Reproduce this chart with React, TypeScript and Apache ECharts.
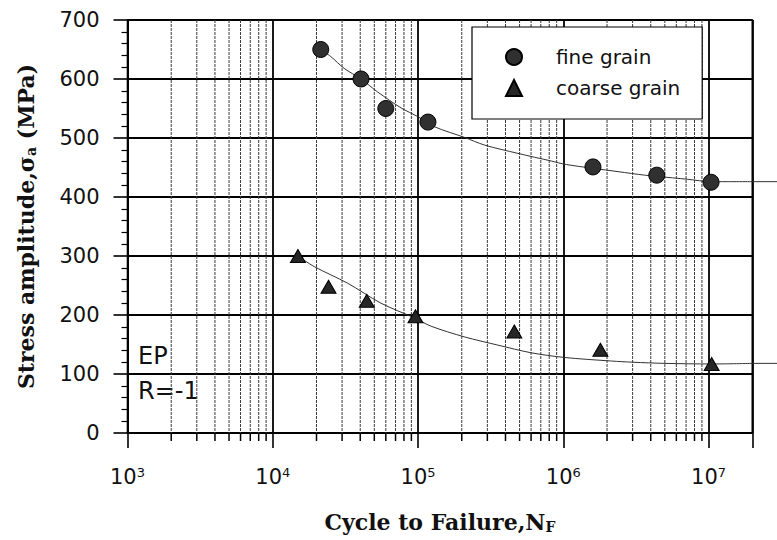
import React, { useEffect, useRef } from "react";
import * as echarts from "echarts";

// ---- data ----
const fineN = [2.14e4, 4.05e4, 6.0e4, 1.17e5, 1.6e6, 4.4e6, 1.04e7];
const fineS = [650, 600, 550, 527, 451, 437, 425];
const coarseN = [1.49e4, 2.42e4, 4.44e4, 9.6e4, 4.6e5, 1.8e6, 1.05e7];
const coarseS = [300, 248, 224, 198, 172, 141, 117];

// fitted curves (traced); the last point sits on the right border and the
// curve continues horizontally past the plot to the edge of the picture
const fineFitN = [2.14e4, 2.51e4, 3.1e4, 4.05e4, 5.27e4, 7.64e4, 1e5, 1.3e5, 2.09e5, 2.87e5, 4.86e5, 8.26e5, 1.05e6, 2.38e6, 3.63e6, 4.4e6, 7.2e6, 1.04e7, 2e7];
const fineFitS = [650, 638, 618, 600, 578, 551, 536, 519, 501, 488, 474, 461, 455, 443, 437, 435, 430, 426, 426];
const coarseFitN = [1.49e4, 1.93e4, 3.27e4, 5.56e4, 9.45e4, 1.23e5, 2.08e5, 3.54e5, 6.0e5, 1.02e6, 2.14e6, 3.0e6, 5e6, 1.05e7, 2e7];
const coarseFitS = [300, 282, 254, 220, 195, 181, 163, 149, 136, 128, 122, 120, 118, 117, 118];

// axis settings
const xMin = 1e3;
const xMax = 2e7;
const yMin = 0;
const yMax = 700;
const yInterval = 100;
const minorDecades = [1e3, 1e4, 1e5, 1e6];
const minorMultipliers = [2, 3, 4, 5, 6, 7, 8, 9];

const legendNames = ["fine grain", "coarse grain"];
const xName = "Cycle to Failure,N";
const xNameSub = "F";
const yNameMain = "Stress amplitude,σ";
const yNameSub = "a";
const yNameTail = " (MPa)";
const notes = ["EP", "R=-1"];

const SANS = '"DejaVu Sans", sans-serif';
const SERIF = '"DejaVu Serif", serif';

export default function App() {
  const ref = useRef<HTMLDivElement>(null);

  useEffect(() => {
    document.body.style.margin = "0";
    if (!ref.current) return;
    const chart = echarts.init(ref.current, undefined, { renderer: "svg" });

    const minorTicks: number[][] = [];
    minorDecades.forEach((d) => minorMultipliers.forEach((m) => minorTicks.push([d * m, 0])));

    const fitEnds = [
      [fineFitN[fineFitN.length - 1], fineFitS[fineFitS.length - 1]],
      [coarseFitN[coarseFitN.length - 1], coarseFitS[coarseFitS.length - 1]],
    ];

    const option: any = {
      animation: false,
      backgroundColor: "#ffffff",
      grid: {
        left: 127.5,
        right: 24.7,
        top: 20,
        bottom: 107,
        show: true,
        borderColor: "#000",
        borderWidth: 1.6,
        backgroundColor: "transparent",
        containLabel: false,
        outerBoundsMode: "none",
      },
      legend: {
        data: [
          { name: legendNames[0], icon: "circle" },
          { name: legendNames[1], icon: "triangle" },
        ],
        orient: "vertical",
        left: 472,
        top: 27,
        itemWidth: 16,
        itemHeight: 16,
        itemGap: 11,
        padding: [20, 22, 21, 33],
        backgroundColor: "#fff",
        borderColor: "#000",
        borderWidth: 1.2,
        borderRadius: 0,
        selectedMode: false,
        textStyle: {
          fontFamily: SANS,
          fontSize: 20,
          color: "#111",
          padding: [0, 0, 0, 29],
        },
      },
      xAxis: {
        type: "log",
        logBase: 10,
        min: xMin,
        max: xMax,
        name: `{n|${xName}}{s|${xNameSub}}`,
        nameLocation: "middle",
        nameGap: 77,
        nameMoveOverlap: false,
        nameTextStyle: {
          rich: {
            n: { fontFamily: SERIF, fontWeight: "bold", fontSize: 22, color: "#111" },
            s: { fontFamily: SERIF, fontWeight: "bold", fontSize: 14, color: "#111", padding: [10, 0, 0, 0] },
          },
        },
        axisLine: { show: true, lineStyle: { color: "#000", width: 1.6 } },
        axisTick: { show: true, length: 15, lineStyle: { color: "#000", width: 1.6 } },
        splitLine: { show: true, lineStyle: { color: "#000", width: 1.8 } },
        axisLabel: {
          margin: 33,
          formatter: (v: number) => {
            const e = Math.round(Math.log10(v));
            if (Math.abs(v - Math.pow(10, e)) > 1e-6 * v) return "";
            return `{b|10}{sup|${e}}`;
          },
          rich: {
            b: { fontFamily: SANS, fontSize: 21, color: "#111" },
            sup: { fontFamily: SANS, fontSize: 13, color: "#111", padding: [0, 0, 9, 0] },
          },
        },
      },
      yAxis: {
        type: "value",
        min: yMin,
        max: yMax,
        interval: yInterval,
        name: `{n|${yNameMain}}{s|${yNameSub}}{n|${yNameTail}}`,
        nameLocation: "middle",
        nameRotate: 90,
        nameGap: 90,
        nameMoveOverlap: false,
        nameTextStyle: {
          rich: {
            n: { fontFamily: SERIF, fontWeight: "bold", fontSize: 22, color: "#111" },
            s: { fontFamily: SERIF, fontWeight: "bold", fontSize: 14, color: "#111", padding: [10, 0, 0, 0] },
          },
        },
        axisLine: { show: true, lineStyle: { color: "#000", width: 1.6 } },
        axisTick: { show: true, length: 14, lineStyle: { color: "#000", width: 1.6 } },
        minorTick: { show: true, splitNumber: 5, length: 6, lineStyle: { color: "#000", width: 1.2 } },
        splitLine: { show: true, lineStyle: { color: "#000", width: 1.8 } },
        axisLabel: { margin: 28, fontFamily: SANS, fontSize: 21, color: "#111" },
      },
      graphic: [
        { type: "text", left: 138, top: 344, style: { text: notes[0], font: `24px ${SANS}`, fill: "#111" } },
        { type: "text", left: 138, top: 379, style: { text: notes[1], font: `24px ${SANS}`, fill: "#111" } },
      ],
      series: [
        {
          name: "minor",
          type: "custom",
          clip: false,
          silent: true,
          z: 1,
          data: minorTicks,
          renderItem: (params: any, api: any) => {
            const v = api.value(0);
            const p0 = api.coord([v, yMin]);
            const p1 = api.coord([v, yMax]);
            return {
              type: "group",
              children: [
                {
                  type: "line",
                  shape: { x1: p0[0], y1: p1[1], x2: p0[0], y2: p0[1] },
                  style: { stroke: "#3a3a3a", lineWidth: 1, lineDash: [3, 1] },
                },
                {
                  type: "line",
                  shape: { x1: p0[0], y1: p0[1], x2: p0[0], y2: p0[1] + 8 },
                  style: { stroke: "#000", lineWidth: 1.5 },
                },
              ],
            };
          },
        },
        {
          name: "fit extension",
          type: "custom",
          clip: false,
          silent: true,
          z: 3,
          data: fitEnds,
          renderItem: (params: any, api: any) => {
            const p = api.coord([api.value(0), api.value(1)]);
            return {
              type: "line",
              shape: { x1: p[0], y1: p[1], x2: api.getWidth(), y2: p[1] },
              style: { stroke: "#333", lineWidth: 1 },
            };
          },
        },
        {
          name: "fine fit",
          type: "line",
          data: fineFitN.map((n, i) => [n, fineFitS[i]]),
          showSymbol: false,
          symbol: "none",
          smooth: 0.3,
          silent: true,
          z: 3,
          lineStyle: { color: "#333", width: 1 },
        },
        {
          name: "coarse fit",
          type: "line",
          data: coarseFitN.map((n, i) => [n, coarseFitS[i]]),
          showSymbol: false,
          symbol: "none",
          smooth: 0.3,
          silent: true,
          z: 3,
          lineStyle: { color: "#333", width: 1 },
        },
        {
          name: legendNames[0],
          type: "scatter",
          symbol: "circle",
          symbolSize: 16,
          z: 5,
          data: fineN.map((n, i) => [n, fineS[i]]),
          itemStyle: { color: "#303030", borderColor: "#000", borderWidth: 1, opacity: 1 },
        },
        {
          name: legendNames[1],
          type: "scatter",
          symbol: "triangle",
          symbolSize: [15, 13],
          z: 5,
          data: coarseN.map((n, i) => [n, coarseS[i]]),
          itemStyle: { color: "#262626", borderColor: "#000", borderWidth: 1, opacity: 1 },
        },
      ],
    };

    chart.setOption(option);
    return () => chart.dispose();
  }, []);

  return (
    <div
      ref={ref}
      style={{ position: "absolute", left: 0, top: 0, width: 777, height: 540, background: "#fff" }}
    />
  );
}
